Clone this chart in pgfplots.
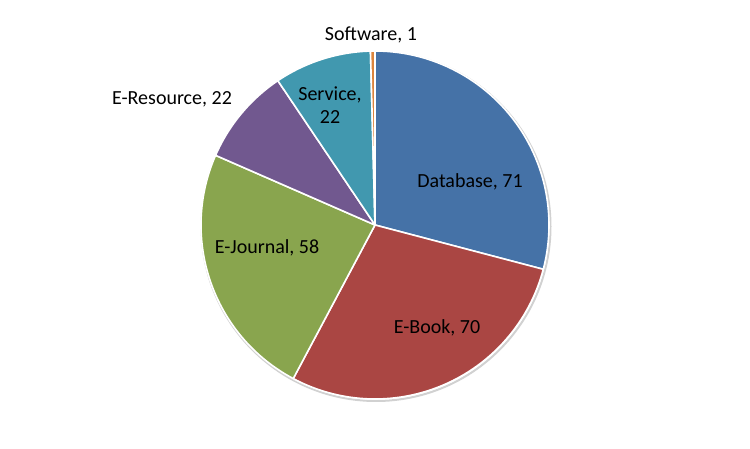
\documentclass[border=0pt]{standalone}
\usepackage{fontspec}
\setmainfont{Carlito}
\usepackage{pgfplots}
\usepackage{pgfplotstable}
\pgfplotsset{compat=1.18}

\definecolor{cDb}{HTML}{4572A7}
\definecolor{cBook}{HTML}{AA4643}
\definecolor{cJour}{HTML}{89A54E}
\definecolor{cRes}{HTML}{71588F}
\definecolor{cServ}{HTML}{4198AF}
\definecolor{cSoft}{HTML}{DB843D}

% slices in Excel order, clockwise from 12 o'clock
\pgfplotstableread{
label      value color
Database   71    cDb
E-Book     70    cBook
E-Journal  58    cJour
E-Resource 22    cRes
Service    22    cServ
Software   1     cSoft
}\piedata

\begin{document}
\begin{tikzpicture}
\begin{axis}[
    x=1pt, y=1pt,
    xmin=0, xmax=750, ymin=0, ymax=449,
    hide axis,
    clip=false,
]
\path (axis cs:0,0) rectangle (axis cs:750,449);

% faint shadow rim
\draw[black!18, line width=2pt] (axis cs:376,222.5) circle[radius=174.5pt];

\def\total{244}
\def\curang{90}
\pgfplotsinvokeforeach{0,...,5}{
  \pgfplotstablegetelem{#1}{value}\of\piedata \let\sliceval\pgfplotsretval
  \pgfplotstablegetelem{#1}{color}\of\piedata \let\slicecol\pgfplotsretval
  \pgfmathsetmacro{\endang}{\curang-\sliceval/\total*360}
  \edef\temp{\noexpand\fill[\slicecol, draw=white, line width=1.6pt, line join=round]
    (axis cs:375,224) -- ([shift={(\curang:174pt)}]axis cs:375,224)
    arc[start angle=\curang, end angle=\endang, radius=174pt] -- cycle;}
  \temp
  \global\let\curang\endang
}

\begin{scope}[every node/.style={font=\fontsize{20}{23}\selectfont, text=black}]
\node at (axis cs:371,414) {Software, 1};
\node at (axis cs:172,350) {E-Resource,\ 22};
\node[align=center] at (axis cs:330,344) {Service,\\22};
\node at (axis cs:470,267) {Database, 71};
\node at (axis cs:267,201) {E-Journal, 58};
\node at (axis cs:437,121) {E-Book, 70};
\end{scope}
\end{axis}
\end{tikzpicture}
\end{document}
